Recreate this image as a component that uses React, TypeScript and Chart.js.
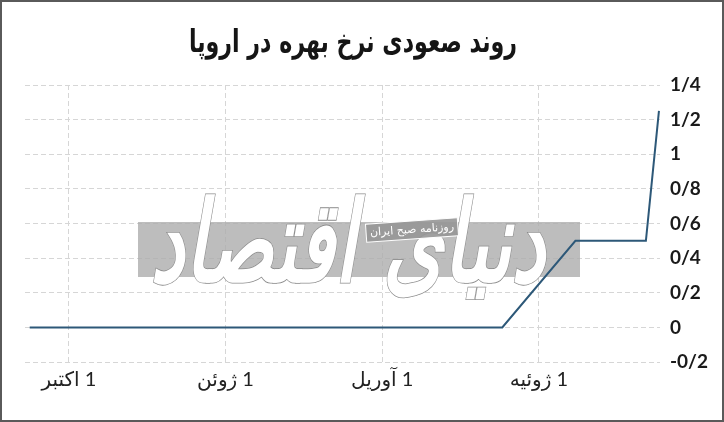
import React, { useRef, useEffect } from 'react'
import { Chart, registerables } from 'chart.js'

Chart.register(...registerables)

// x is in months counted from the first ("1 اکتبر") tick
const monthX = [-0.75, 8.3, 9.7, 11.05, 11.3]
const rate = [0, 0, 0.5, 0.5, 1.25]

const xTickMonths = [0, 3, 6, 9]
const xTickLabels = ['1 اکتبر', '1 ژوئن', '1 آوریل', '1 ژوئیه']
const yTicks = [-0.2, 0, 0.2, 0.4, 0.6, 0.8, 1, 1.2, 1.4]

const title = 'روند صعودی نرخ بهره در اروپا'

const faDecimal = (v: number) => {
  const s = String(Math.round(v * 10) / 10)
  return s.replace('.', '/')
}

// wrap in a right-to-left embedding so the day number sits on the right
const rtl = (s: string) => '\u202B' + s + '\u202C'

// title drawn by hand so it can be squeezed like the original display font
const titlePlugin = {
  id: 'faTitle',
  afterDraw(chart: any) {
    const ctx = chart.ctx
    ctx.save()
    ctx.translate(351, 42)
    ctx.scale(0.82, 1.15)
    ctx.font = 'bold 27px "DejaVu Sans"'
    ctx.textAlign = 'center'
    ctx.textBaseline = 'middle'
    ctx.fillStyle = '#151515'
    ctx.fillText(rtl(title), 0, 0)
    ctx.restore()
  },
}

// newspaper watermark drawn behind the line
const watermark = {
  id: 'watermark',
  beforeDatasetsDraw(chart: any) {
    const ctx = chart.ctx
    ctx.save()
    ctx.fillStyle = 'rgba(172,172,172,0.8)'
    ctx.fillRect(136, 220, 442, 55)

    ctx.font = 'italic bold 70px "DejaVu Sans"'
    ctx.textAlign = 'center'
    ctx.textBaseline = 'middle'
    const txt = 'دنیای اقتصاد'
    const w = ctx.measureText(txt).width
    ctx.translate(346, 250)
    ctx.scale(395 / w, 1.6)
    ctx.lineWidth = 1
    ctx.strokeStyle = '#8a8a8a'
    ctx.strokeText(txt, 0, 0)
    ctx.fillStyle = '#ffffff'
    ctx.fillText(txt, 0, 0)
    ctx.restore()

    ctx.save()
    ctx.translate(410, 228)
    ctx.rotate(-0.07)
    ctx.fillStyle = 'rgba(150,150,150,0.9)'
    ctx.fillRect(-46, -9, 92, 18)
    ctx.strokeStyle = '#ffffff'
    ctx.lineWidth = 1
    ctx.strokeRect(-46, -9, 92, 18)
    ctx.fillStyle = '#ffffff'
    ctx.font = '11px "DejaVu Sans"'
    ctx.textAlign = 'center'
    ctx.textBaseline = 'middle'
    ctx.fillText(rtl('روزنامه صبح ایران'), 0, 0)
    ctx.restore()
  },
}

const App = () => {
  const chartRef = useRef<HTMLCanvasElement>(null)

  useEffect(() => {
    if (!chartRef.current) return
    const ctx = chartRef.current.getContext('2d')
    if (!ctx) return

    const chart = new Chart(ctx, {
      type: 'line',
      data: {
        datasets: [
          {
            data: monthX.map((x, i) => ({ x, y: rate[i] })),
            borderColor: '#2d5878',
            borderWidth: 2,
            pointRadius: 0,
            fill: false,
            tension: 0,
          },
        ],
      },
      options: {
        animation: false,
        responsive: true,
        maintainAspectRatio: false,
        layout: { padding: { left: 23, right: 0, top: 83, bottom: 22 } },
        plugins: {
          legend: { display: false },
          tooltip: { enabled: false },
          title: { display: false },
        },
        scales: {
          x: {
            type: 'linear',
            min: -0.84,
            max: 11.32,
            afterBuildTicks: (scale: any) => {
              scale.ticks = xTickMonths.map((v) => ({ value: v }))
            },
            ticks: {
              autoSkip: false,
              maxRotation: 0,
              padding: 6,
              color: '#222',
              font: { family: 'Lato, "DejaVu Sans"', size: 20 },
              callback: (_v: any, i: number) => rtl(xTickLabels[i]),
            },
            grid: { color: '#d6d6d6', lineWidth: 1, drawTicks: false },
            border: { display: false, dash: [5, 3] },
          },
          y: {
            position: 'right',
            min: -0.2,
            max: 1.4,
            afterBuildTicks: (scale: any) => {
              scale.ticks = yTicks.map((v) => ({ value: v }))
            },
            afterFit: (scale: any) => {
              scale.width = 62
            },
            ticks: {
              padding: 10,
              color: '#1a1a1a',
              font: { family: 'Lato, "DejaVu Sans"', size: 19, weight: 'bold' },
              callback: (v: any) => faDecimal(Number(v)),
            },
            grid: { color: '#d6d6d6', lineWidth: 1, drawTicks: false },
            border: { display: false, dash: [5, 3] },
          },
        },
      },
      plugins: [watermark, titlePlugin],
    })

    return () => {
      chart.destroy()
    }
  }, [])

  return (
    <div
      style={{
        position: 'fixed',
        left: 0,
        top: 0,
        width: 724,
        height: 422,
        border: '2px solid #5a5a5a',
        boxSizing: 'border-box',
        background: '#fff',
      }}
    >
      <div style={{ position: 'relative', width: '100%', height: '100%' }}>
        <canvas ref={chartRef}></canvas>
      </div>
    </div>
  )
}

export default App
